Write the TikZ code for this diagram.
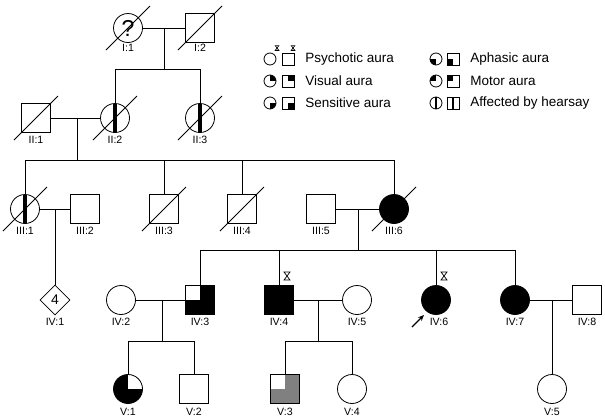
\documentclass[tikz,border=0pt]{standalone}
\usepackage{fontspec}
\setmainfont{Liberation Sans}
\usetikzlibrary{shapes.geometric,arrows.meta}
\newcommand\dead[1]{\draw ([shift={(-22pt,-22pt)}]#1.center) -- ([shift={(22pt,22pt)}]#1.center);}
\newcommand\hglass[2]{\draw[line width=0.7pt,line join=miter] (#1) ++(-3*#2,4*#2) -- ++(6*#2,0) -- ++(-6*#2,-8*#2) -- ++(6*#2,0) -- cycle;}
\begin{document}
\begin{tikzpicture}[x=1pt,y=1pt,line width=0.8pt,
  circ/.style={circle,draw,minimum size=29pt,inner sep=0pt},
  sq/.style={rectangle,draw,minimum size=29pt,inner sep=0pt},
  dia/.style={diamond,draw,minimum width=30pt,minimum height=30pt,inner sep=0pt,font=\fontsize{14}{16}\selectfont},
  lbl/.style={font=\fontsize{10.6}{12}\selectfont,inner sep=0pt},
  leg/.style={font=\fontsize{13.5}{16}\selectfont,inner sep=0pt,anchor=west},
  lc/.style={circle,draw,minimum size=12pt,inner sep=0pt},
  ls/.style={rectangle,draw,minimum size=12pt,inner sep=0pt},
  hear/.style={path picture={\fill ([xshift=-2pt]path picture bounding box.north) rectangle ([xshift=2pt]path picture bounding box.south);}},
  hearL/.style={path picture={\draw[line width=1.4pt] (path picture bounding box.north) -- (path picture bounding box.south);}},
  wUL/.style={path picture={\fill[white] (path picture bounding box.center) rectangle (path picture bounding box.north west);}},
  wUR/.style={path picture={\fill[white] (path picture bounding box.center) rectangle (path picture bounding box.north east);}},
  fUR/.style={path picture={\fill (path picture bounding box.center) rectangle (path picture bounding box.north east);}},
  fLR/.style={path picture={\fill (path picture bounding box.center) rectangle (path picture bounding box.south east);}},
  fLL/.style={path picture={\fill (path picture bounding box.center) rectangle (path picture bounding box.south west);}},
  fUL/.style={path picture={\fill (path picture bounding box.center) rectangle (path picture bounding box.north west);}}
]
\useasboundingbox (0,0) rectangle (605,-418);

% Generation I
\node[circ,font=\fontsize{23}{25}\selectfont] (I1) at (128,-28) {?};
\node[sq] (I2) at (200,-28) {};
\node[lbl] (I1l) at (128,-48) {I:1};
\node[lbl] (I2l) at (200,-48) {I:2};
\dead{I1}\dead{I2}

% Generation II
\node[sq] (II1) at (36,-118) {};
\node[circ,hear] (II2) at (115,-118) {};
\node[circ,hear] (II3) at (200,-118) {};
\node[lbl] (II1l) at (36,-140) {II:1};
\node[lbl] (II2l) at (115,-140) {II:2};
\node[lbl] (II3l) at (200,-140) {II:3};
\dead{II1}\dead{II2}\dead{II3}

% Generation III
\node[circ,hear] (III1) at (25,-209) {};
\node[sq] (III2) at (85,-209) {};
\node[sq] (III3) at (164,-209) {};
\node[sq] (III4) at (242,-209) {};
\node[sq] (III5) at (321,-209) {};
\node[circ,fill=black] (III6) at (394,-209) {};
\node[lbl] (III1l) at (25,-231) {III:1};
\node[lbl] (III2l) at (85,-231) {III:2};
\node[lbl] (III3l) at (164,-231) {III:3};
\node[lbl] (III4l) at (242,-231) {III:4};
\node[lbl] (III5l) at (321,-231) {III:5};
\node[lbl] (III6l) at (394,-231) {III:6};
\dead{III1}\dead{III3}\dead{III4}\dead{III6}

% Generation IV
\node[dia] (IV1) at (55,-300) {4};
\node[circ] (IV2) at (121,-300) {};
\node[sq,fill=black,wUL] (IV3) at (200,-300) {};
\node[sq,fill=black] (IV4) at (279,-300) {};
\node[circ] (IV5) at (357,-300) {};
\node[circ,fill=black] (IV6) at (436,-300) {};
\node[circ,fill=black] (IV7) at (515,-300) {};
\node[sq] (IV8) at (587,-300) {};
\node[lbl] (IV1l) at (55,-322) {IV:1};
\node[lbl] (IV2l) at (121,-322) {IV:2};
\node[lbl] (IV3l) at (200,-322) {IV:3};
\node[lbl] (IV4l) at (279,-322) {IV:4};
\node[lbl] (IV5l) at (357,-322) {IV:5};
\node[lbl] (IV6l) at (439,-322) {IV:6};
\node[lbl] (IV7l) at (515,-322) {IV:7};
\node[lbl] (IV8l) at (587,-322) {IV:8};
\hglass{287,-276}{1}
\hglass{444,-276}{1}

% Generation V
\node[circ,fill=black,wUR] (V1) at (128,-389) {};
\node[sq] (V2) at (194,-389) {};
\node[sq,fill=black!50,wUL] (V3) at (285,-389) {};
\node[circ] (V4) at (352,-389) {};
\node[circ] (V5) at (552,-389) {};
\node[lbl] (V1l) at (128,-412) {V:1};
\node[lbl] (V2l) at (194,-412) {V:2};
\node[lbl] (V3l) at (285,-412) {V:3};
\node[lbl] (V4l) at (352,-412) {V:4};
\node[lbl] (V5l) at (552,-412) {V:5};

% connectors
\coordinate (m1) at (164,-28); \coordinate (s1) at (164,-69);
\draw (I1) -- (I2);
\draw (m1) -- (s1);
\draw (II2.north) -- (II2.north |- s1) -- (II3.north |- s1) -- (II3.north);

\coordinate (m2) at (77,-118); \coordinate (s2) at (77,-160);
\draw (II1) -- (II2);
\draw (m2) -- (s2);
\draw (III1.north) -- (III1.north |- s2) -- (III6.north |- s2) -- (III6.north);
\draw (III3.north) -- (III3.north |- s2);
\draw (III4.north) -- (III4.north |- s2);

\coordinate (m3) at (55,-209);
\draw (III1) -- (III2);
\draw (m3) -- (IV1.north);

\coordinate (m4) at (358,-209); \coordinate (s4) at (358,-250);
\draw (III5) -- (III6);
\draw (m4) -- (s4);
\draw (IV3.north) -- (IV3.north |- s4) -- (IV7.north |- s4) -- (IV7.north);
\draw (IV4.north) -- (IV4.north |- s4);
\draw (IV6.north) -- (IV6.north |- s4);

\coordinate (m5) at (162,-300); \coordinate (s5) at (162,-341);
\draw (IV2) -- (IV3);
\draw (m5) -- (s5);
\draw (V1.north) -- (V1.north |- s5) -- (V2.north |- s5) -- (V2.north);

\coordinate (m6) at (318,-300); \coordinate (s6) at (318,-341);
\draw (IV4) -- (IV5);
\draw (m6) -- (s6);
\draw (V3.north) -- (V3.north |- s6) -- (V4.north |- s6) -- (V4.north);

\coordinate (m7) at (552,-300);
\draw (IV7) -- (IV8);
\draw (m7) -- (V5.north);

% proband arrow
\coordinate (arS) at (412,-327); \coordinate (arE) at (424,-315);
\draw[line width=1.3pt,-{Stealth[length=6pt,width=5pt]}] (arS) -- (arE);

% legend
\node[lc] (L1c) at (270,-59) {};
\node[ls] (L1s) at (288,-59) {};
\hglass{277,-48}{0.6}
\hglass{293,-48}{0.6}
\node[leg] (L1t) at (305,-59) {Psychotic aura};
\node[lc,fUR] (L2c) at (270,-81) {};
\node[ls,fUR] (L2s) at (288,-81) {};
\node[leg] (L2t) at (305,-81) {Visual aura};
\node[lc,fLR] (L3c) at (270,-103) {};
\node[ls,fLR] (L3s) at (288,-103) {};
\node[leg] (L3t) at (305,-103) {Sensitive aura};
\node[lc,fLL] (L4c) at (436,-59) {};
\node[ls,fLL] (L4s) at (453,-59) {};
\node[leg] (L4t) at (470,-59) {Aphasic aura};
\node[lc,fUL] (L5c) at (436,-81) {};
\node[ls,fUL] (L5s) at (453,-81) {};
\node[leg] (L5t) at (470,-81) {Motor aura};
\node[lc,hearL] (L6c) at (436,-103) {};
\node[ls,hearL] (L6s) at (453,-103) {};
\node[leg] (L6t) at (470,-103) {Affected by hearsay};
\end{tikzpicture}
\end{document}
